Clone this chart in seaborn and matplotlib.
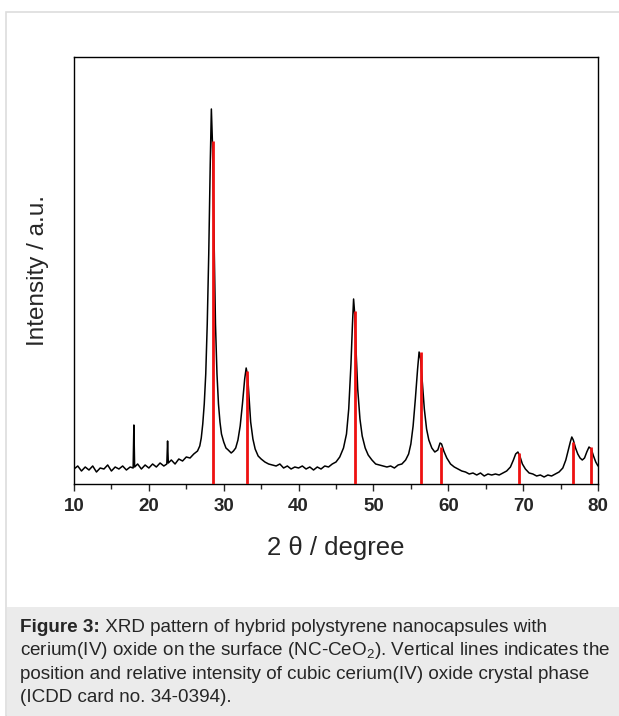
import numpy as np
import pandas as pd
import matplotlib
matplotlib.use('Agg')
import matplotlib.pyplot as plt
import seaborn as sns
from matplotlib.patches import Rectangle
from matplotlib.ticker import MultipleLocator

two_theta = [
    10.0, 10.5, 11.0, 11.5, 12.0, 12.5, 13.0, 13.5, 14.0, 14.5, 15.0, 15.5,
    16.0, 16.5, 17.0, 17.5, 17.9, 18.0, 18.1, 18.5, 19.0, 19.5, 20.0, 20.5,
    21.0, 21.5, 22.0, 22.4, 22.5, 22.6, 23.0, 23.5, 24.0, 24.5, 25.0, 25.5,
    26.0, 26.5, 26.8, 27.0, 27.2, 27.4, 27.6, 27.8, 28.0, 28.2, 28.35, 28.5,
    28.7, 28.9, 29.1, 29.3, 29.5, 29.7, 30.0, 30.3, 30.6, 31.0, 31.3, 31.6,
    31.9, 32.2, 32.5, 32.8, 33.0, 33.2, 33.4, 33.6, 33.9, 34.2, 34.6, 35.0,
    35.5, 36.0, 36.5, 37.0, 37.5, 38.0, 38.5, 39.0, 39.5, 40.0, 40.5, 41.0,
    41.5, 42.0, 42.5, 43.0, 43.5, 44.0, 44.5, 45.0, 45.5, 46.0, 46.4, 46.7,
    47.0, 47.2, 47.35, 47.5, 47.7, 47.9, 48.2, 48.5, 48.9, 49.3, 49.8, 50.3,
    50.8, 51.3, 51.8, 52.3, 52.8, 53.3, 53.8, 54.3, 54.7, 55.0, 55.3, 55.6,
    55.9, 56.1, 56.3, 56.5, 56.8, 57.1, 57.4, 57.8, 58.2, 58.6, 58.9, 59.1,
    59.4, 59.8, 60.3, 60.8, 61.3, 61.8, 62.3, 62.8, 63.3, 63.8, 64.3, 64.8,
    65.3, 65.8, 66.3, 66.8, 67.3, 67.8, 68.3, 68.7, 69.0, 69.3, 69.6, 69.9,
    70.3, 70.8, 71.3, 71.8, 72.3, 72.8, 73.3, 73.8, 74.3, 74.8, 75.3, 75.7,
    76.0, 76.3, 76.5, 76.7, 77.0, 77.3, 77.6, 77.9, 78.2, 78.5, 78.8, 79.1,
    79.4, 79.7, 80.0,
]
intensity = [
    15, 18, 13, 17, 14, 18, 12, 16, 15, 19, 13, 17,
    15, 18, 14, 17, 16, 59, 17, 20, 15, 19, 16, 20,
    17, 21, 18, 20, 43, 21, 24, 20, 25, 23, 27, 26,
    30, 33, 38, 46, 60, 80, 110, 160, 230, 320, 375, 340,
    250, 160, 110, 80, 62, 50, 42, 36, 34, 31, 33, 36,
    44, 58, 80, 105, 116, 108, 85, 62, 45, 35, 28, 25,
    22, 20, 19, 18, 20, 16, 18, 15, 17, 16, 18, 15,
    17, 14, 17, 15, 18, 17, 20, 22, 27, 36, 50, 75,
    120, 160, 185, 170, 130, 95, 65, 48, 36, 29, 24, 20,
    19, 18, 17, 18, 16, 19, 20, 24, 30, 40, 58, 85,
    115, 132, 125, 105, 75, 55, 44, 36, 32, 34, 41, 40,
    33, 26, 20, 17, 15, 13, 12, 10, 11, 9, 11, 8,
    10, 9, 10, 9, 11, 13, 17, 24, 30, 32, 27, 20,
    15, 11, 10, 8, 9, 7, 9, 8, 10, 12, 16, 24,
    33, 42, 47, 44, 36, 30, 26, 24, 26, 32, 37, 35,
    28, 22, 18,
]

# reference pattern, cubic CeO2 (ICDD 34-0394)
ref_pos = [28.55, 33.08, 47.48, 56.34, 59.09, 69.40, 76.70, 79.07]
ref_int = [343, 113, 173, 132, 37, 31, 42, 37]

caption = [
    " XRD pattern of hybrid polystyrene nanocapsules with",
    "cerium(IV) oxide on the surface (NC-CeO$_2$). Vertical lines indicates the",
    "position and relative intensity of cubic cerium(IV) oxide crystal phase",
    "(ICDD card no. 34-0394).",
]

sns.set_style("ticks")
plt.rcParams['font.family'] = ['Liberation Sans', 'DejaVu Sans']
plt.rcParams['mathtext.fontset'] = 'custom'
plt.rcParams['mathtext.rm'] = 'Liberation Sans'
plt.rcParams['mathtext.it'] = 'Liberation Sans'

df = pd.DataFrame({'two_theta': two_theta, 'intensity': intensity})

fig = plt.figure(figsize=(6.19, 7.16), dpi=100)
W, H = 619, 716

# outer frame and caption panel
fig.add_artist(Rectangle((6 / W, 0), 1, 1 - 12 / H, transform=fig.transFigure,
                         facecolor='white', edgecolor='#dddddd', linewidth=1.2,
                         zorder=-10))
fig.add_artist(Rectangle((6.6 / W, 0), 1, (716 - 607) / H, transform=fig.transFigure,
                         facecolor='#ebebeb', edgecolor='none', zorder=-9))

ax = fig.add_axes([74 / W, 1 - 484 / H, (598 - 74) / W, (484 - 57) / H])
sns.lineplot(data=df, x='two_theta', y='intensity', ax=ax, color='black',
             linewidth=1.1, estimator=None)
ax.vlines(ref_pos, 0, ref_int, color='#ee1111', linewidth=2.0, zorder=3)

ax.set_xlim(10, 80)
ax.set_ylim(0, 427)
ax.set_yticks([])
ax.xaxis.set_major_locator(MultipleLocator(10))
ax.xaxis.set_minor_locator(MultipleLocator(5))
ax.tick_params(axis='x', which='major', length=5, width=1, labelsize=13.5, pad=5)
ax.tick_params(axis='x', which='minor', length=3.5, width=1)
for lab in ax.get_xticklabels():
    lab.set_fontweight('bold')
for s in ax.spines.values():
    s.set_linewidth(1.0)
    s.set_color('black')

ax.set_xlabel('2 θ / degree', fontsize=18.5, labelpad=15)
ax.set_ylabel('Intensity / a.u.', fontsize=17.5, labelpad=18)

# caption
y0 = 1 - 632 / H
fig.canvas.draw()
t = fig.text(20 / W, y0, 'Figure 3:', fontsize=13.6, fontweight='bold', va='baseline')
bb = t.get_window_extent(renderer=fig.canvas.get_renderer())
fig.text(bb.x1 / W, y0, caption[0], fontsize=13.6, va='baseline')
for i, line in enumerate(caption[1:], start=1):
    fig.text(20 / W, y0 - i * 23.3 / H, line, fontsize=13.6, va='baseline')

fig.savefig('out.png', dpi=100)
